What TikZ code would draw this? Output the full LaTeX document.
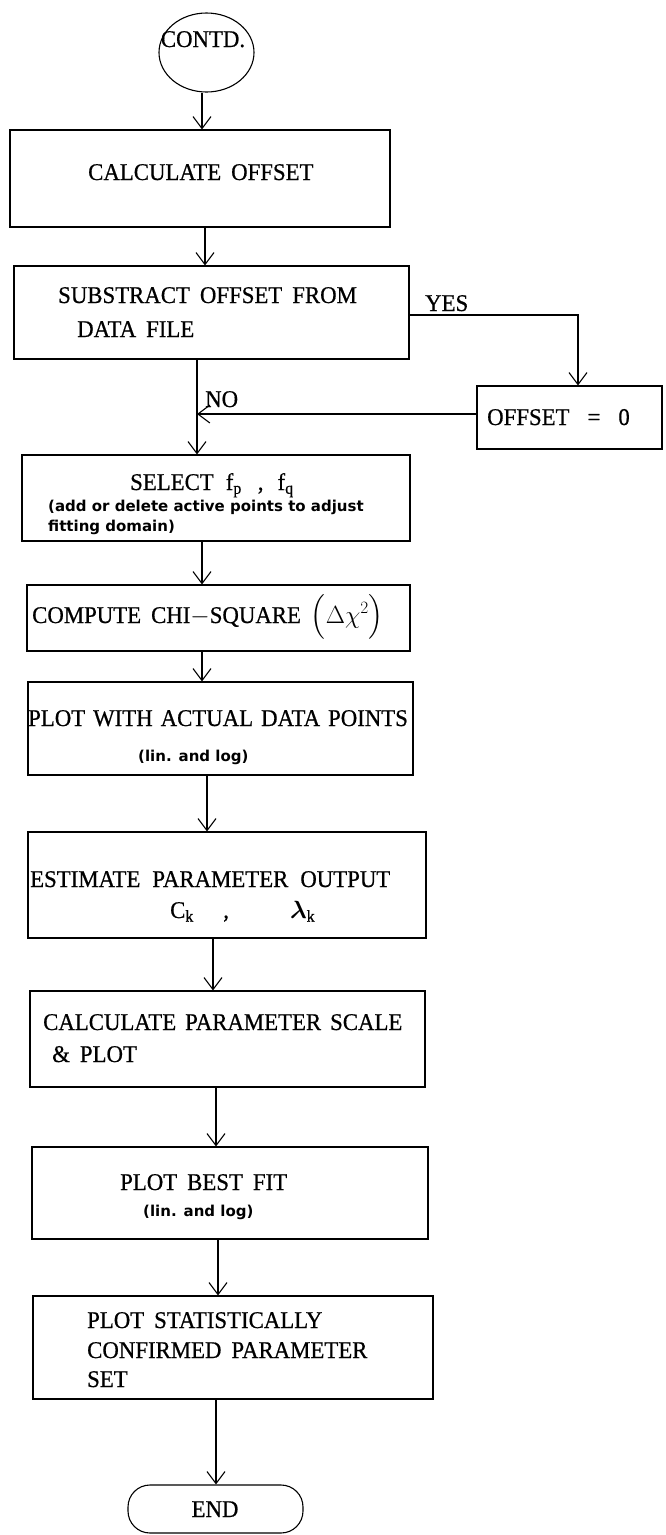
\documentclass[tikz,border=0pt]{standalone}
\usepackage{amsmath}
\usepackage{bm}
\usepackage{fontspec}
\setmainfont{Liberation Serif}[FakeStretch=0.95,FakeBold=0.6]
\newfontfamily\smallsans{DejaVu Sans}
\usetikzlibrary{arrows.meta,shapes.geometric}
\newcommand\bigtxt{\fontsize{24}{28}\selectfont\spaceskip=10pt plus 2pt\relax}
\newcommand\smalltxt{\smallsans\bfseries\fontsize{15}{18}\selectfont}
\newcommand\wsp[1]{\spaceskip=#1\relax}
\tikzset{
  box/.style={draw, line width=1.1pt, inner sep=0pt},
  lbl/.style={inner sep=0pt, anchor=base west, font=\bigtxt},
  note/.style={inner sep=0pt, anchor=base west, font=\smalltxt},
  arr/.style={line width=1.1pt, -{Straight Barb[length=12pt,width=18pt]}},
}
\begin{document}
\begin{tikzpicture}[x=1pt,y=-1pt]
\useasboundingbox (0,0) rectangle (666,1535);
% shapes
\node[box, ellipse, minimum width=95pt, minimum height=79pt] (c0) at (206.5,52.5) {};
\node[box, minimum width=380pt, minimum height=97pt] (b1) at (200,178.5) {};
\node[box, minimum width=395pt, minimum height=93pt] (b2) at (211.5,312.5) {};
\node[box, minimum width=185pt, minimum height=63pt] (b0) at (569.5,417.5) {};
\node[box, minimum width=388pt, minimum height=86pt] (b3) at (216,498) {};
\node[box, minimum width=383pt, minimum height=66pt] (b4) at (218.5,618) {};
\node[box, minimum width=385pt, minimum height=93pt] (b5) at (220.5,728.5) {};
\node[box, minimum width=398pt, minimum height=106pt] (b6) at (227,885) {};
\node[box, minimum width=395pt, minimum height=96pt] (b7) at (227.5,1039) {};
\node[box, minimum width=396pt, minimum height=92pt] (b8) at (230,1193) {};
\node[box, minimum width=400pt, minimum height=103pt] (b9) at (233,1347.5) {};
\node[box, rounded corners=22pt, minimum width=175pt, minimum height=48pt] (e0) at (215.5,1509) {};
% texts
\node[inner sep=0pt, anchor=base, font=\bigtxt] (t0) at (203,47) {CONTD.};
\node[lbl] (t1) at (88,180) {CALCULATE OFFSET};
\node[lbl] (t2a) at (58,303) {SUBSTRACT OFFSET FROM};
\node[lbl] (t2b) at (77,337) {DATA FILE};
\node[lbl] (tyes) at (425,311) {YES};
\node[lbl] (tno) at (205,407) {NO};
\node[lbl] (tz) at (487,425) {OFFSET\hspace{18pt}=\hspace{18pt}0};
\node[lbl] (t3a) at (130,490) {SELECT\hspace{12pt}f\textsubscript{p}\hspace{16pt},\hspace{14pt}f\textsubscript{q}};
\node[note] (t3b) at (48,511) {(add or delete active points to adjust};
\node[note] (t3c) at (48,531) {fitting domain)};
\node[lbl] (t4) at (32,623) {COMPUTE CHI$-$SQUARE\hspace{10pt}$\Bigl(\Delta\chi^{2}\Bigr)$};
\node[lbl] (t5a) at (28,726) {\wsp{8pt}PLOT WITH ACTUAL DATA POINTS};
\node[note] (t5b) at (138,761) {(lin. and log)};
\node[lbl] (t6a) at (30,887) {\wsp{12pt}ESTIMATE PARAMETER OUTPUT};
\node[lbl] (t6b) at (170,918) {C$_{\mathrm{k}}$\hspace{29pt},\hspace{61pt}$\bm{\lambda}_{\mathrm{k}}$};
\node[lbl] (t7a) at (43,1030) {\wsp{9pt}CALCULATE PARAMETER SCALE};
\node[lbl] (t7b) at (52,1062) {\& PLOT};
\node[lbl] (t8a) at (120,1190) {PLOT BEST FIT};
\node[note] (t8b) at (143,1216) {(lin. and log)};
\node[lbl] (t9a) at (87,1328) {PLOT STATISTICALLY};
\node[lbl] (t9b) at (87,1358) {CONFIRMED PARAMETER};
\node[lbl] (t9c) at (87,1387) {SET};
\node[inner sep=0pt, anchor=base, font=\bigtxt] (tend) at (215,1517) {END};
% connectors
\coordinate (j) at (197,414);
\draw[arr] (c0.south -| 202,0) -- (b1.north -| 202,0);
\draw[arr] (b1.south -| 205,0) -- (b2.north -| 205,0);
\draw[arr] (b2.south -| 197,0) -- (b3.north -| 197,0);
\draw[arr] (b2.east |- 0,315) -| (b0.north -| 578,0);
\draw[arr] (b0.west |- j) -- (j);
\draw[arr] (b3.south -| 202,0) -- (b4.north -| 202,0);
\draw[arr] (b4.south -| 202,0) -- (b5.north -| 202,0);
\draw[arr] (b5.south -| 207,0) -- (b6.north -| 207,0);
\draw[arr] (b6.south -| 213,0) -- (b7.north -| 213,0);
\draw[arr] (b7.south -| 216,0) -- (b8.north -| 216,0);
\draw[arr] (b8.south -| 218,0) -- (b9.north -| 218,0);
\draw[arr] (b9.south -| 216,0) -- (e0.north -| 216,0);
\end{tikzpicture}
\end{document}
